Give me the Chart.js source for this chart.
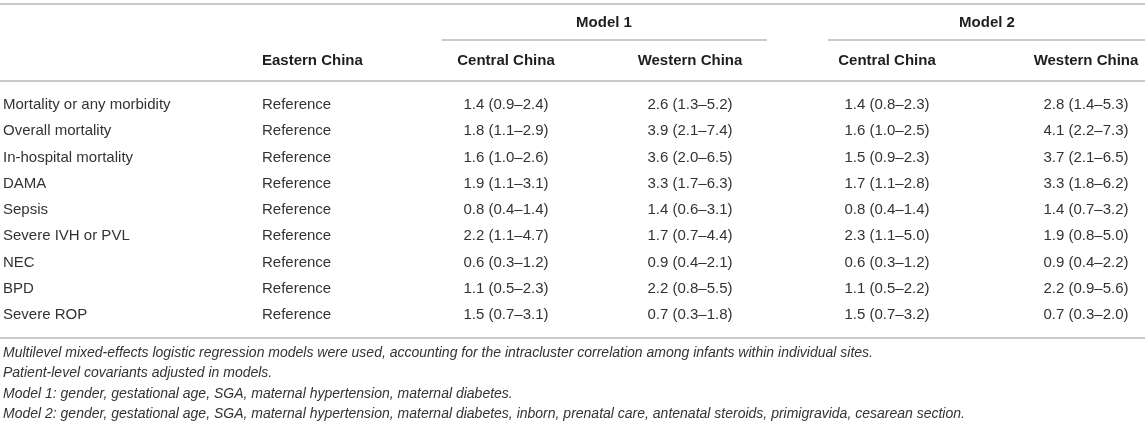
<!DOCTYPE html>
<html>
<head>
<meta charset="utf-8">
<script src="https://cdn.jsdelivr.net/npm/chart.js@4.4.1/dist/chart.umd.min.js"></script>
<style>
  html, body { margin: 0; padding: 0; background: #fff; }
  #wrap { width: 1145px; height: 426px; position: relative; }
</style>
</head>
<body>
<div id="wrap"><canvas id="tableChart"></canvas></div>
<script>
// Table data
const outcomes = ['Mortality or any morbidity', 'Overall mortality', 'In-hospital mortality', 'DAMA', 'Sepsis',
    'Severe IVH or PVL', 'NEC', 'BPD', 'Severe ROP'];
const eastern = ['Reference', 'Reference', 'Reference', 'Reference', 'Reference',
    'Reference', 'Reference', 'Reference', 'Reference'];

// Model 1
const m1CentralOR = [1.4, 1.8, 1.6, 1.9, 0.8, 2.2, 0.6, 1.1, 1.5];
const m1CentralLo = [0.9, 1.1, 1.0, 1.1, 0.4, 1.1, 0.3, 0.5, 0.7];
const m1CentralHi = [2.4, 2.9, 2.6, 3.1, 1.4, 4.7, 1.2, 2.3, 3.1];
const m1WesternOR = [2.6, 3.9, 3.6, 3.3, 1.4, 1.7, 0.9, 2.2, 0.7];
const m1WesternLo = [1.3, 2.1, 2.0, 1.7, 0.6, 0.7, 0.4, 0.8, 0.3];
const m1WesternHi = [5.2, 7.4, 6.5, 6.3, 3.1, 4.4, 2.1, 5.5, 1.8];

// Model 2
const m2CentralOR = [1.4, 1.6, 1.5, 1.7, 0.8, 2.3, 0.6, 1.1, 1.5];
const m2CentralLo = [0.8, 1.0, 0.9, 1.1, 0.4, 1.1, 0.3, 0.5, 0.7];
const m2CentralHi = [2.3, 2.5, 2.3, 2.8, 1.4, 5.0, 1.2, 2.2, 3.2];
const m2WesternOR = [2.8, 4.1, 3.7, 3.3, 1.4, 1.9, 0.9, 2.2, 0.7];
const m2WesternLo = [1.4, 2.2, 2.1, 1.8, 0.7, 0.8, 0.4, 0.9, 0.3];
const m2WesternHi = [5.3, 7.3, 6.5, 6.2, 3.2, 5.0, 2.2, 5.6, 2.0];

const columnHeads = ['', 'Eastern China', 'Central China', 'Western China', 'Central China', 'Western China'];
const modelHeads = ['Model 1', 'Model 2'];
const footnotes = [
    'Multilevel mixed-effects logistic regression models were used, accounting for the intracluster correlation among infants within individual sites.',
    'Patient-level covariants adjusted in models.',
    'Model 1: gender, gestational age, SGA, maternal hypertension, maternal diabetes.',
    'Model 2: gender, gestational age, SGA, maternal hypertension, maternal diabetes, inborn, prenatal care, antenatal steroids, primigravida, cesarean section.'
];

function fmt(or, lo, hi) {
    return or.toFixed(1) + ' (' + lo.toFixed(1) + '\u2013' + hi.toFixed(1) + ')';
}

// layout of the columns (x anchor in px, text alignment)
const colX = [3, 262, 506, 690, 887, 1086];
const colAlign = ['left', 'left', 'center', 'center', 'center', 'center'];
const FONT = '"Liberation Sans", Arial, Helvetica, sans-serif';
const TEXT = '#333333';
const HEAD = '#1e1e1e';
const RULE = '#b8b8b8';

const columns = [
    outcomes,
    eastern,
    m1CentralOR.map((v, i) => fmt(v, m1CentralLo[i], m1CentralHi[i])),
    m1WesternOR.map((v, i) => fmt(v, m1WesternLo[i], m1WesternHi[i])),
    m2CentralOR.map((v, i) => fmt(v, m2CentralLo[i], m2CentralHi[i])),
    m2WesternOR.map((v, i) => fmt(v, m2WesternLo[i], m2WesternHi[i]))
];

const datasets = columns.map((texts, c) => ({
    label: columnHeads[c],
    texts: texts,
    align: colAlign[c],
    data: outcomes.map(o => ({ x: colX[c], y: o })),
    pointRadius: 0,
    pointHoverRadius: 0
}));

function hline(ctx, x1, x2, y) {
    ctx.beginPath();
    ctx.moveTo(x1, y);
    ctx.lineTo(x2, y);
    ctx.stroke();
}

// draws the cells, header and rules
const tablePlugin = {
    id: 'tablePlugin',
    afterDraw(chart) {
        const ctx = chart.ctx;
        const area = chart.chartArea;
        const W = chart.width;
        ctx.save();

        // rules
        ctx.strokeStyle = RULE;
        ctx.lineWidth = 1.5;
        hline(ctx, 0, W, area.top - 88);
        hline(ctx, 442, 767, area.top - 52);
        hline(ctx, 828, W, area.top - 52);
        hline(ctx, 0, W, area.top - 11);
        hline(ctx, 0, W, area.bottom + 10);

        // header
        ctx.textBaseline = 'middle';
        ctx.fillStyle = HEAD;
        ctx.font = 'bold 15px ' + FONT;
        ctx.textAlign = 'center';
        ctx.fillText(modelHeads[0], 604, area.top - 69);
        ctx.fillText(modelHeads[1], 987, area.top - 69);
        columnHeads.forEach((h, c) => {
            ctx.textAlign = colAlign[c];
            ctx.fillText(h, colX[c], area.top - 31);
        });

        // body cells, placed at the points given by the scales
        ctx.font = '15px ' + FONT;
        ctx.fillStyle = TEXT;
        chart.data.datasets.forEach((ds, d) => {
            const meta = chart.getDatasetMeta(d);
            ctx.textAlign = ds.align;
            meta.data.forEach((pt, i) => {
                ctx.fillText(ds.texts[i], pt.x, pt.y);
            });
        });

        // footnotes
        ctx.font = 'italic 14px ' + FONT;
        ctx.textAlign = 'left';
        footnotes.forEach((f, i) => {
            ctx.fillText(f, 3, area.bottom + 25 + i * 20.5);
        });
        ctx.restore();
    }
};

new Chart(document.getElementById('tableChart'), {
    type: 'scatter',
    data: { labels: outcomes, datasets: datasets },
    options: {
        responsive: true,
        maintainAspectRatio: false,
        animation: false,
        events: [],
        layout: { padding: { top: 92, bottom: 98, left: 0, right: 0 } },
        plugins: { legend: { display: false }, tooltip: { enabled: false } },
        scales: {
            x: { type: 'linear', min: 0, max: 1145, display: false },
            y: { type: 'category', labels: outcomes, offset: true, display: false }
        }
    },
    plugins: [tablePlugin]
});
</script>
</body>
</html>
